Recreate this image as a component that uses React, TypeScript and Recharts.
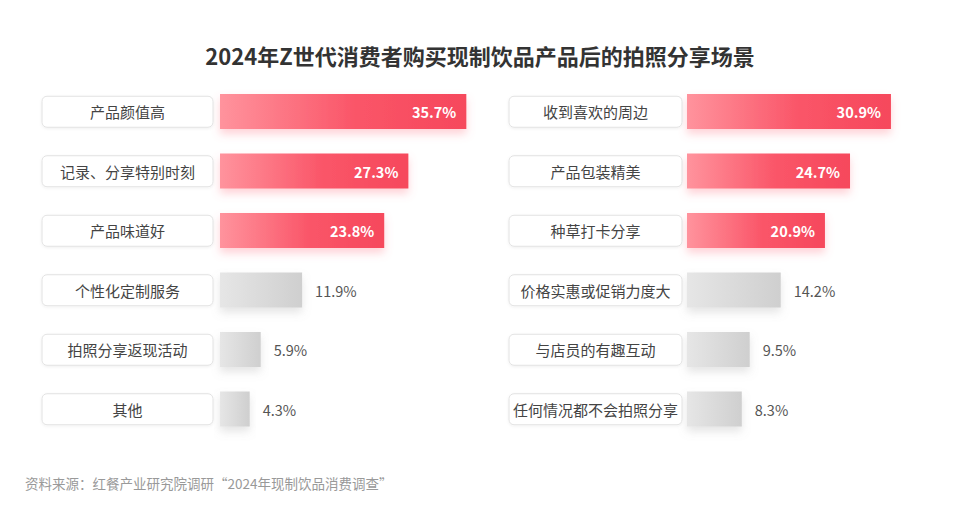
import { BarChart, Bar, XAxis, YAxis, LabelList } from 'recharts';

const leftCategories = ['产品颜值高', '记录、分享特别时刻', '产品味道好', '个性化定制服务', '拍照分享返现活动', '其他'];
const leftValues = [35.7, 27.3, 23.8, 11.9, 5.9, 4.3];
const rightCategories = ['收到喜欢的周边', '产品包装精美', '种草打卡分享', '价格实惠或促销力度大', '与店员的有趣互动', '任何情况都不会拍照分享'];
const rightValues = [30.9, 24.7, 20.9, 14.2, 9.5, 8.3];
const HIGHLIGHT = 3;

const FONT = '"Noto Sans CJK SC", "Noto Sans", sans-serif';

interface PanelProps {
  id: string;
  categories: string[];
  values: number[];
  width: number;
  axisWidth: number;
  boxX: number;
  boxW: number;
}

function Panel({ id, categories, values, width, axisWidth, boxX, boxW }: PanelProps) {
  const data = categories.map((name, i) => ({ name, value: values[i] }));

  const renderTick = (props: any) => {
    const { y, payload } = props;
    return (
      <g>
        <rect x={boxX} y={y - 15.5} width={boxW} height={31} rx={5} fill="#fff" stroke="#e2e2e2" strokeWidth={1} filter={`url(#${id}-boxshadow)`} />
        <text x={boxX + boxW / 2} y={y} textAnchor="middle" dominantBaseline="central" fontSize={15} fill="#444" fontFamily={FONT}>
          {payload.value}
        </text>
      </g>
    );
  };

  const renderShape = (props: any) => {
    const { x, y, width: w, height: h, index } = props;
    const hot = index < HIGHLIGHT;
    return (
      <rect
        x={x}
        y={y}
        width={w}
        height={h}
        fill={hot ? `url(#${id}-red)` : `url(#${id}-gray)`}
        filter={hot ? `url(#${id}-redshadow)` : `url(#${id}-grayshadow)`}
      />
    );
  };

  const renderLabel = (props: any) => {
    const { x, y, width: w, height: h, value, index } = props;
    const hot = index < HIGHLIGHT;
    return (
      <text
        x={hot ? x + w - 10 : x + w + 13}
        y={y + h / 2}
        textAnchor={hot ? 'end' : 'start'}
        dominantBaseline="central"
        fontSize={14.5}
        fontWeight={hot ? 700 : 400}
        fill={hot ? '#fff' : '#555'}
        fontFamily={FONT}
      >
        {`${value}%`}
      </text>
    );
  };

  return (
    <BarChart width={width} height={520} data={data} layout="vertical" margin={{ top: 82, right: 0, bottom: 81, left: 0 }}>
      <defs>
        <linearGradient id={`${id}-red`} x1="0" y1="0" x2="1" y2="0">
          <stop offset="0%" stopColor="#ff939d" />
          <stop offset="55%" stopColor="#fa5568" />
          <stop offset="100%" stopColor="#f6485c" />
        </linearGradient>
        <linearGradient id={`${id}-gray`} x1="0" y1="0" x2="1" y2="0">
          <stop offset="0%" stopColor="#e6e6e6" />
          <stop offset="100%" stopColor="#cfcfcf" />
        </linearGradient>
        <filter id={`${id}-redshadow`} x="-20%" y="-30%" width="140%" height="190%">
          <feDropShadow dx="0" dy="5" stdDeviation="4" floodColor="#ff6b7c" floodOpacity="0.3" />
        </filter>
        <filter id={`${id}-grayshadow`} x="-20%" y="-30%" width="140%" height="190%">
          <feDropShadow dx="0" dy="5" stdDeviation="4" floodColor="#999" floodOpacity="0.25" />
        </filter>
        <filter id={`${id}-boxshadow`} x="-10%" y="-30%" width="120%" height="170%">
          <feDropShadow dx="0" dy="1" stdDeviation="1.5" floodColor="#000" floodOpacity="0.06" />
        </filter>
      </defs>
      <XAxis type="number" domain={[0, 40]} hide />
      <YAxis type="category" dataKey="name" width={axisWidth} axisLine={false} tickLine={false} tick={renderTick} interval={0} />
      <Bar dataKey="value" barSize={35} shape={renderShape} isAnimationActive={false}>
        <LabelList dataKey="value" content={renderLabel} />
      </Bar>
    </BarChart>
  );
}

export default function App() {
  return (
    <div style={{ position: 'absolute', left: 0, top: 0, width: 960, height: 520, background: '#fff', fontFamily: FONT, overflow: 'hidden' }}>
      <div style={{ position: 'absolute', left: 0, top: 40, width: 960, textAlign: 'center', fontSize: 22, fontWeight: 700, color: '#333', lineHeight: '30px' }}>
        2024年Z世代消费者购买现制饮品产品后的拍照分享场景
      </div>
      <div style={{ position: 'absolute', left: 0, top: 0 }}>
        <Panel id="l" categories={leftCategories} values={leftValues} width={496} axisWidth={220} boxX={42} boxW={171} />
      </div>
      <div style={{ position: 'absolute', left: 480, top: 0 }}>
        <Panel id="r" categories={rightCategories} values={rightValues} width={471} axisWidth={207} boxX={29} boxW={173} />
      </div>
      <div style={{ position: 'absolute', left: 25, top: 474, fontSize: 13.5, color: '#999', lineHeight: '18px' }}>
        资料来源：红餐产业研究院调研“2024年现制饮品消费调查”
      </div>
    </div>
  );
}
